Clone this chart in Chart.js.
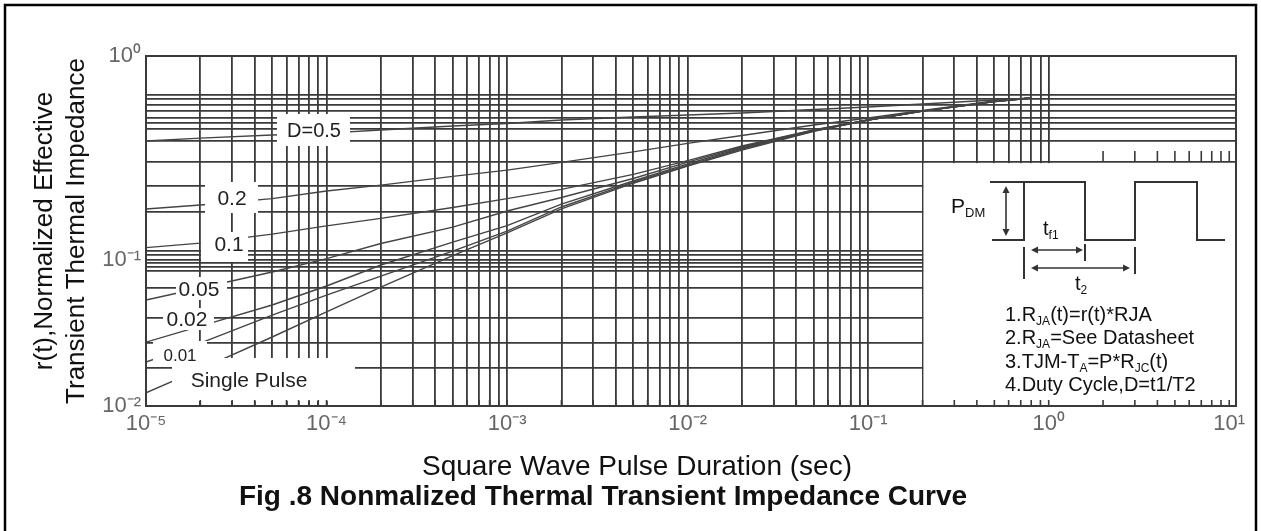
<!DOCTYPE html>
<html>
<head>
<meta charset="utf-8">
<script src="https://cdn.jsdelivr.net/npm/chart.js@4.4.1/dist/chart.umd.min.js"></script>
<style>
  html, body { margin: 0; padding: 0; background: #fff; }
  canvas { display: block; }
</style>
</head>
<body>
<canvas id="zthChart" width="1261" height="531"></canvas>
<script>
/* ===== DATA ===== */
const pulseTimes = [1e-5, 2e-5, 5e-5, 1e-4, 2e-4, 5e-4, 1e-3, 2e-3, 5e-3, 1e-2, 2e-2, 5e-2, 1e-1, 2e-1, 5e-1, 8e-1];

const zD05    = [0.383, 0.396, 0.410, 0.419, 0.434, 0.454, 0.467, 0.486, 0.502, 0.514, 0.526, 0.547, 0.562, 0.582, 0.609, 0.623];
const zD02    = [0.178, 0.186, 0.200, 0.218, 0.233, 0.257, 0.276, 0.301, 0.339, 0.373, 0.408, 0.459, 0.497, 0.541, 0.602, 0.623];
const zD01    = [0.115, 0.121, 0.134, 0.147, 0.160, 0.181, 0.200, 0.222, 0.263, 0.307, 0.362, 0.434, 0.486, 0.537, 0.598, 0.623];
const zD005   = [0.0532, 0.0643, 0.0828, 0.1017, 0.1205, 0.145, 0.174, 0.2025, 0.251, 0.302, 0.358, 0.434, 0.486, 0.537, 0.598, 0.623];
const zD002   = [0.0274, 0.0353, 0.0492, 0.0664, 0.0925, 0.1225, 0.1476, 0.188, 0.244, 0.296, 0.354, 0.431, 0.486, 0.537, 0.598, 0.623];
const zD001   = [0.0200, 0.0270, 0.0420, 0.0575, 0.0777, 0.1107, 0.1387, 0.182, 0.241, 0.292, 0.350, 0.429, 0.486, 0.537, 0.598, 0.623];
const zSingle = [0.0123, 0.0179, 0.0297, 0.0441, 0.0653, 0.105, 0.136, 0.178, 0.238, 0.289, 0.346, 0.427, 0.486, 0.537, 0.598, 0.623];

const curveNames = ["D=0.5", "0.2", "0.1", "0.05", "0.02", "0.01", "Single Pulse"];
const curveValues = [zD05, zD02, zD01, zD005, zD002, zD001, zSingle];

const xDecades = [1e-5, 1e-4, 1e-3, 1e-2, 1e-1, 1e0, 1e1];
const xDecadeLabels = ["10⁻⁵", "10⁻⁴", "10⁻³", "10⁻²", "10⁻¹", "10⁰", "10¹"];
const yDecades = [0.01, 0.1, 1];
const yDecadeLabels = ["10⁻²", "10⁻¹", "10⁰"];
// horizontal grid lines as printed on the original sheet
const yGridValues = [0.644, 0.616, 0.575, 0.537, 0.497, 0.47, 0.439, 0.383, 0.302, 0.231, 0.172,
                     0.111, 0.106, 0.1, 0.0954, 0.0896, 0.084, 0.0643, 0.0401, 0.027, 0.0182];

const FONT = "'Liberation Sans', Arial, sans-serif";
const GRID = "#3a3a3a";

// 1..9 x 10^n vertical grid
const xGridValues = [];
xDecades.forEach((d) => {
  for (let m = 1; m <= 9; m++) {
    if (d * m <= 10) xGridValues.push(d * m);
  }
});

/* ===== Y SCALE: log axis whose lower decade is printed shorter ===== */
const LOWER_DECADE_SHARE = 0.417;

class StretchedLogScale extends Chart.LogarithmicScale {
  getPixelForValue(value) {
    if (value === undefined || value === 0) value = this.min;
    if (value === null || isNaN(value)) return NaN;
    const l = Math.log10(value);
    const f = l <= -1
      ? (l + 2) * LOWER_DECADE_SHARE
      : LOWER_DECADE_SHARE + (l + 1) * (1 - LOWER_DECADE_SHARE);
    return this.getPixelForDecimal(f);
  }
  getValueForPixel(pixel) {
    const f = this.getDecimalForPixel(pixel);
    const l = f <= LOWER_DECADE_SHARE
      ? f / LOWER_DECADE_SHARE - 2
      : (f - LOWER_DECADE_SHARE) / (1 - LOWER_DECADE_SHARE) - 1;
    return Math.pow(10, l);
  }
}
StretchedLogScale.id = "stretchedLog";
Chart.register(StretchedLogScale);

const decadeLabel = (v, decades, labels) => {
  const i = decades.findIndex((d) => Math.abs(d - v) / d < 1e-6);
  return i >= 0 ? labels[i] : "";
};

/* ===== helpers for the drawing ===== */
function richText(ctx, x, y, parts, size) {
  let cx = x;
  parts.forEach(([text, sub]) => {
    const s = sub ? Math.round(size * 0.62) : size;
    ctx.font = s + "px " + FONT;
    ctx.fillText(text, cx, sub ? y + size * 0.32 : y);
    cx += ctx.measureText(text).width;
  });
}

function arrowHead(ctx, x, y, dx, dy) {
  const len = 7, half = 3.5;
  ctx.beginPath();
  ctx.moveTo(x, y);
  ctx.lineTo(x - dx * len - dy * half, y - dy * len + dx * half);
  ctx.lineTo(x - dx * len + dy * half, y - dy * len - dx * half);
  ctx.closePath();
  ctx.fill();
}

function doubleArrow(ctx, x1, y1, x2, y2) {
  const L = Math.hypot(x2 - x1, y2 - y1);
  const dx = (x2 - x1) / L, dy = (y2 - y1) / L;
  ctx.beginPath();
  ctx.moveTo(x1 + dx * 5, y1 + dy * 5);
  ctx.lineTo(x2 - dx * 5, y2 - dy * 5);
  ctx.stroke();
  arrowHead(ctx, x2, y2, dx, dy);
  arrowHead(ctx, x1, y1, -dx, -dy);
}

const curveTags = [
  { text: "D=0.5", box: [277, 114, 73, 32], at: [314, 131], size: 20 },
  { text: "0.2", box: [205, 182, 53, 31], at: [232, 199], size: 21 },
  { text: "0.1", box: [201, 232, 47, 30], at: [229, 245], size: 21 },
  { text: "0.05", box: [176, 277, 51, 23], at: [199, 290], size: 21 },
  { text: "0.02", box: [163, 308, 51, 22], at: [187, 320], size: 21 },
  { text: "0.01", box: [153, 341, 54, 24], at: [180, 356], size: 17 },
  { text: "Single Pulse", box: [172, 358, 183, 43], at: [249, 381], size: 21 },
];

const notes = [
  [["1.R"], ["JA", 1], ["(t)=r(t)*RJA"]],
  [["2.R"], ["JA", 1], ["=See Datasheet"]],
  [["3.TJM-T"], ["A", 1], ["=P*R"], ["JC", 1], ["(t)"]],
  [["4.Duty Cycle,D=t1/T2"]],
];

const figureDecor = {
  id: "figureDecor",
  afterDatasetsDraw(chart) {
    const { ctx, chartArea: a, scales: { x, y } } = chart;
    ctx.save();

    // white inset panel, lower right
    const insetLeft = x.getPixelForValue(0.2) + 1;
    const insetTop = y.getPixelForValue(0.302) + 1;
    ctx.fillStyle = "#fff";
    ctx.fillRect(insetLeft, insetTop, a.right - insetLeft, a.bottom - insetTop);

    // curve tags: all white boxes first, then the texts
    curveTags.forEach((t) => ctx.fillRect(...t.box));
    ctx.textAlign = "center";
    ctx.textBaseline = "middle";
    ctx.fillStyle = "#222";
    curveTags.forEach((t) => {
      ctx.font = t.size + "px " + FONT;
      ctx.fillText(t.text, t.at[0], t.at[1]);
    });

    // short inner ticks along bottom, and along inset top for the last decade
    ctx.strokeStyle = GRID;
    ctx.lineWidth = 1.6;
    xGridValues.forEach((v) => {
      const px = x.getPixelForValue(v);
      ctx.beginPath();
      ctx.moveTo(px, a.bottom);
      ctx.lineTo(px, a.bottom - 6);
      if (v > 1.01) {
        ctx.moveTo(px, insetTop - 1);
        ctx.lineTo(px, insetTop - 12);
      }
      ctx.stroke();
    });

    // plot frame
    ctx.lineWidth = 2;
    ctx.strokeRect(a.left, a.top, a.width, a.height);

    // pulse waveform
    ctx.strokeStyle = "#333";
    ctx.fillStyle = "#333";
    ctx.lineWidth = 2;
    ctx.beginPath();
    ctx.moveTo(990, 182); ctx.lineTo(1024, 182);
    ctx.moveTo(992, 240); ctx.lineTo(1024, 240); ctx.lineTo(1024, 182);
    ctx.lineTo(1085, 182); ctx.lineTo(1085, 240); ctx.lineTo(1135, 240);
    ctx.lineTo(1135, 182); ctx.lineTo(1197, 182); ctx.lineTo(1197, 240);
    ctx.lineTo(1225, 240);
    ctx.stroke();
    ctx.beginPath();
    ctx.moveTo(1024, 247); ctx.lineTo(1024, 279);
    ctx.moveTo(1085, 244); ctx.lineTo(1085, 261);
    ctx.moveTo(1135, 247); ctx.lineTo(1135, 274);
    ctx.stroke();
    ctx.lineWidth = 1.6;
    doubleArrow(ctx, 1006, 186, 1006, 236);
    doubleArrow(ctx, 1031, 250, 1083, 250);
    doubleArrow(ctx, 1031, 268, 1130, 268);

    ctx.fillStyle = "#111";
    ctx.textAlign = "left";
    richText(ctx, 951, 207, [["P"], ["DM", 1]], 21);
    richText(ctx, 1043, 229, [["t"], ["f1", 1]], 20);
    richText(ctx, 1075, 284, [["t"], ["2", 1]], 20);
    notes.forEach((parts, i) => richText(ctx, 1005, 315 + i * 23.5, parts, 20));

    ctx.restore();
  },
  afterDraw(chart) {
    const { ctx } = chart;
    ctx.save();
    ctx.fillStyle = "#111";
    ctx.textAlign = "center";
    ctx.textBaseline = "middle";
    ctx.font = "28px " + FONT;
    ctx.fillText("Square Wave Pulse Duration (sec)", 637, 467);
    ctx.font = "bold 28px " + FONT;
    ctx.fillText("Fig .8 Nonmalized Thermal Transient Impedance Curve", 603, 497);
    ctx.strokeStyle = "#000";
    ctx.lineWidth = 2.5;
    ctx.strokeRect(5, 5, 1251, 545);
    ctx.restore();
  },
};

/* ===== TRANSIENT THERMAL IMPEDANCE CHART ===== */
const zthCtx = document.getElementById("zthChart");

new Chart(zthCtx, {
  type: "scatter",
  data: {
    datasets: curveNames.map((name, k) => ({
      label: name,
      data: pulseTimes.map((t, i) => ({ x: t, y: curveValues[k][i] })),
      showLine: true,
      borderColor: "#444",
      borderWidth: 1.4,
      pointRadius: 0,
    })),
  },
  options: {
    responsive: false,
    animation: false,
    layout: { padding: { left: 20, top: 56, right: 25, bottom: 85 } },
    plugins: {
      legend: { display: false },
      tooltip: { enabled: false },
    },
    scales: {
      x: {
        type: "logarithmic",
        min: 1e-5,
        max: 10.9,
        afterBuildTicks: (s) => { s.ticks = xGridValues.map((v) => ({ value: v })); },
        afterFit: (s) => { s.height = 40; },
        border: { display: false },
        grid: {
          color: (c) => (c.tick && c.tick.value > 1.01 ? "rgba(0,0,0,0)" : GRID),
          lineWidth: 1.8,
          drawTicks: false,
        },
        ticks: {
          autoSkip: false,
          maxRotation: 0,
          padding: 5,
          color: "#666",
          font: { family: FONT, size: 22 },
          callback: (v) => decadeLabel(v, xDecades, xDecadeLabels),
        },
      },
      y: {
        type: "stretchedLog",
        min: 0.01,
        max: 1,
        afterBuildTicks: (s) => {
          s.ticks = [0.01, ...yGridValues, 1].map((v) => ({ value: v }));
        },
        afterFit: (s) => { s.width = 126; },
        border: { display: false },
        grid: { color: GRID, lineWidth: 1.8, drawTicks: false },
        ticks: {
          autoSkip: false,
          padding: 5,
          color: "#666",
          font: { family: FONT, size: 22 },
          callback: (v) => decadeLabel(v, yDecades, yDecadeLabels),
        },
        title: {
          display: true,
          text: ["r(t),Normalized Effective", "Transient Thermal Impedance"],
          color: "#111",
          font: { family: FONT, size: 26, lineHeight: 1.23 },
          padding: { top: 9, bottom: 0 },
        },
      },
    },
  },
  plugins: [figureDecor],
});
</script>
</body>
</html>
